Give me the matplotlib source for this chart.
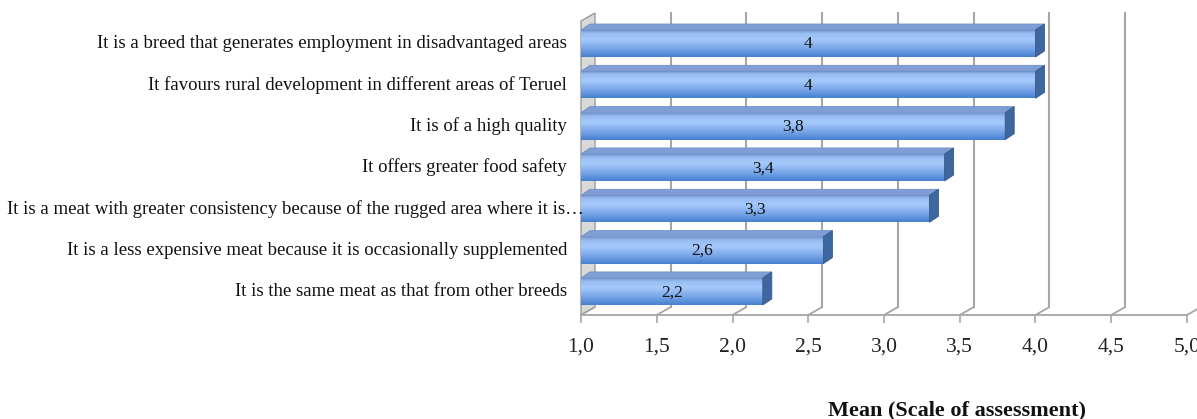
import numpy as np
import matplotlib.pyplot as plt
from matplotlib.colors import LinearSegmentedColormap
from matplotlib.patches import Polygon
from matplotlib.transforms import blended_transform_factory

categories = [
    "It is a breed that generates employment in disadvantaged areas",
    "It favours rural development in different areas of Teruel",
    "It is of a high quality",
    "It offers greater food safety",
    "It is a meat with greater consistency because of the rugged area where it is\u2026",
    "It is a less expensive meat because it is occasionally supplemented",
    "It is the same meat as that from other breeds",
]
means = [4.0, 4.0, 3.8, 3.4, 3.3, 2.6, 2.2]
value_labels = ["4", "4", "3,8", "3,4", "3,3", "2,6", "2,2"]
xticks = [1.0, 1.5, 2.0, 2.5, 3.0, 3.5, 4.0, 4.5, 5.0]
xtick_labels = ["1,0", "1,5", "2,0", "2,5", "3,0", "3,5", "4,0", "4,5", "5,0"]

W, H = 1197, 419
fig = plt.figure(figsize=(W / 100, H / 100), dpi=100)
ax = fig.add_axes([581 / W, 1 - 315 / H, (1187 - 581) / W, (315 - 13) / H])

x0, x1 = 1.0, 5.0
y_floor, y_top = 6.57, -0.738
px_x = (x1 - x0) / (1187 - 581)       # value units per pixel
px_y = (y_floor - y_top) / (315 - 13)  # index units per pixel
DX, DY = 14 * px_x, -8 * px_y          # depth of the chart box
dxb, dyb = 9 * px_x, -6 * px_y         # depth of a bar
half = 13.5 * px_y

grid_c = "#a6a6a6"
# back wall at x = 1
wall = Polygon([(x0, y_floor), (x0 + DX, y_floor + DY), (x0 + DX, y_top),
                (x0, y_top - DY)], closed=True, facecolor="#d9d9d9",
               edgecolor="#9a9a9a", lw=1.0, zorder=1, clip_on=False)
ax.add_patch(wall)
for t in xticks:
    ax.plot([t, t + DX], [y_floor, y_floor + DY], color=grid_c, lw=1.3,
            zorder=1, clip_on=False, solid_capstyle="butt")
    if t > x0:
        ax.plot([t + DX, t + DX], [y_floor + DY, y_top], color=grid_c, lw=1.5,
                zorder=1, clip_on=False)
ax.plot([x0, x1], [y_floor, y_floor], color=grid_c, lw=1.3, zorder=1, clip_on=False)

cmap = LinearSegmentedColormap.from_list(
    "bar", [(0.0, "#7898d2"), (0.12, "#98bdf3"), (0.35, "#a5c9fb"),
            (0.7, "#78a5e8"), (1.0, "#4580d0")])
grad = np.linspace(0, 1, 64).reshape(-1, 1)

for i, (v, lab) in enumerate(zip(means, value_labels)):
    ytop, ybot = i - half, i + half
    ax.imshow(grad, cmap=cmap, aspect="auto", extent=(x0, v, ybot, ytop),
              origin="upper", zorder=3, interpolation="bilinear")
    top = Polygon([(x0, ytop), (v, ytop), (v + dxb, ytop + dyb), (x0 + dxb, ytop + dyb)],
                  closed=True, facecolor="#7f9ed3", edgecolor="#6f8fc8", lw=0.6, zorder=3)
    side = Polygon([(v, ytop), (v + dxb, ytop + dyb), (v + dxb, ybot + dyb), (v, ybot)],
                   closed=True, facecolor="#3f679f", edgecolor="#37598c", lw=0.6, zorder=3)
    ax.add_patch(top)
    ax.add_patch(side)
    ax.text((x0 + v) / 2, i + 0.02, lab, ha="center", va="center",
            family="Liberation Serif", fontsize=12.5, color="#111111", zorder=4)

trans = blended_transform_factory(ax.transAxes, ax.transData)
for i, cat in enumerate(categories):
    off = 2 if cat.endswith("\u2026") else -10
    ax.annotate(cat, xy=(0, i), xycoords=trans, xytext=(off, 0),
                textcoords="offset points", ha="right", va="center",
                family="Liberation Serif", fontsize=13.5, color="#111111")

ax.set_xlim(x0, x1)
ax.set_ylim(y_floor, y_top)
ax.set_yticks([])
ax.set_xticks(xticks)
ax.set_xticklabels(xtick_labels, family="Liberation Serif", fontsize=15.5, color="#222222")
ax.tick_params(axis="x", length=6, width=1.2, color=grid_c, pad=10)
for s in ax.spines.values():
    s.set_visible(False)
ax.patch.set_alpha(0)

fig.text(957 / W, 1 - 410 / H, "Mean (Scale of assessment)", ha="center", va="center",
         family="Liberation Serif", fontsize=16, fontweight="bold", color="#111111")

fig.savefig("out.png", dpi=100)
